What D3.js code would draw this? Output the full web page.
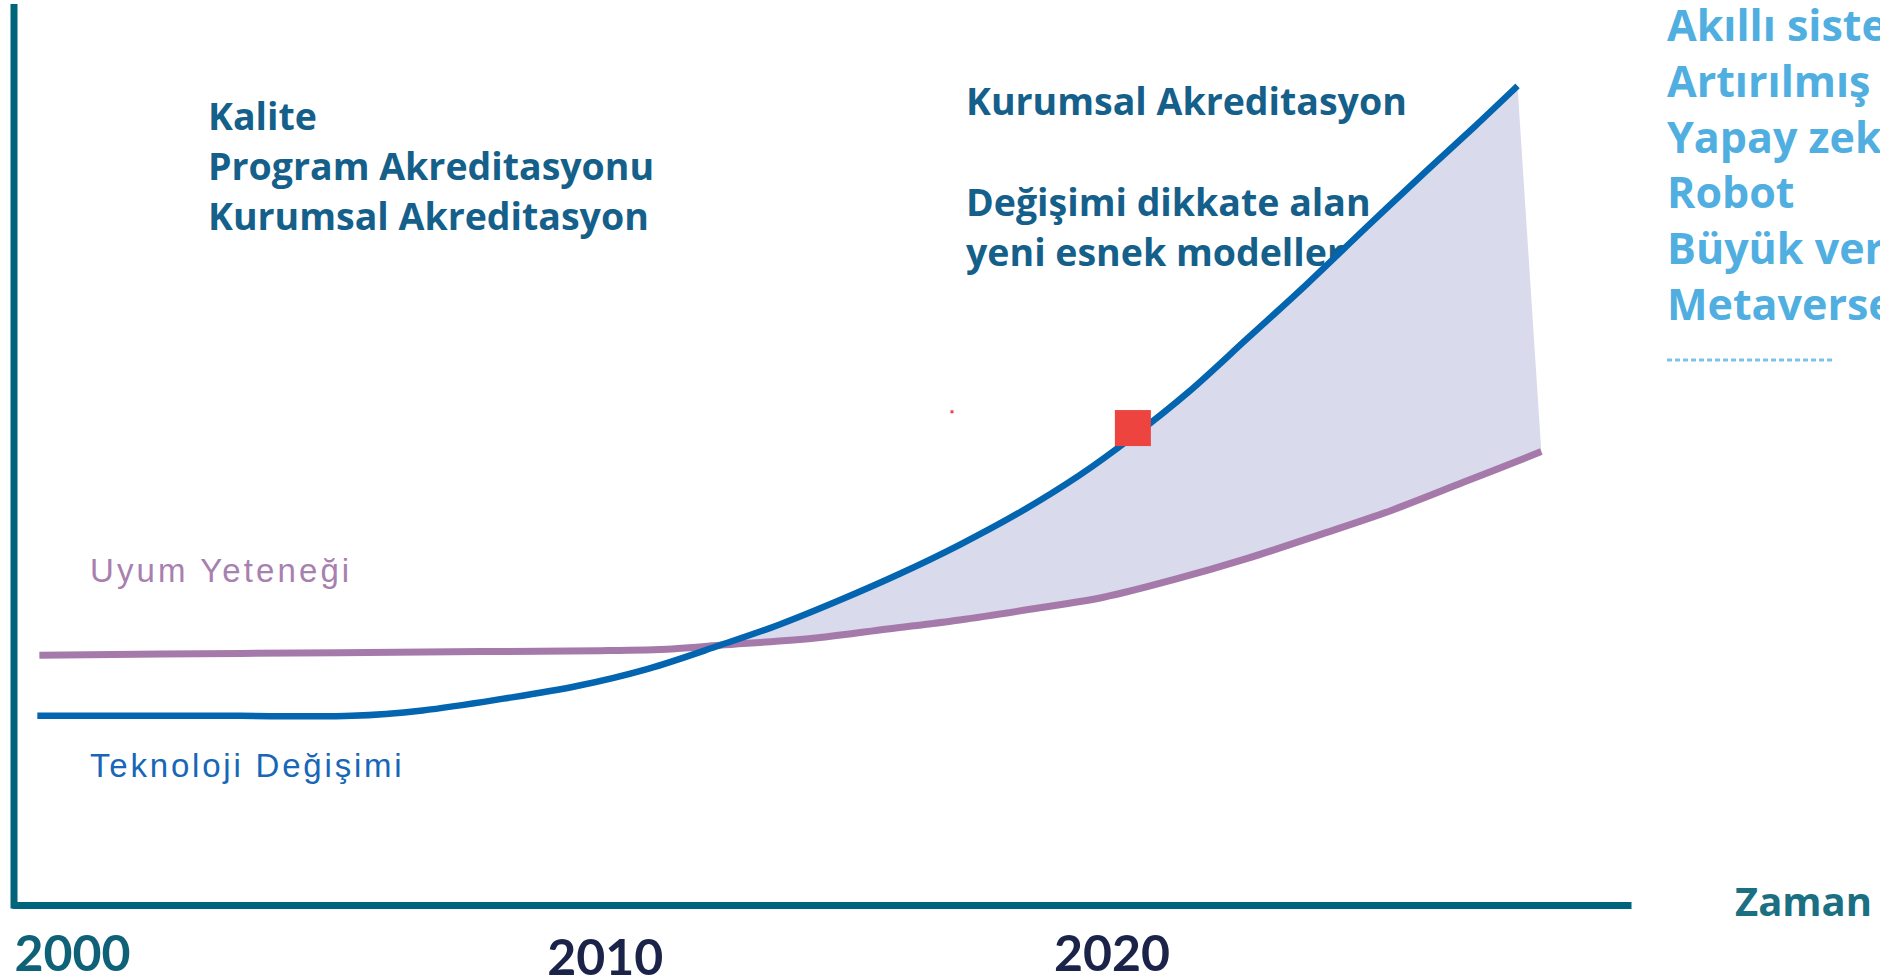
<!DOCTYPE html>
<html>
<head>
<meta charset="utf-8">
<script src="https://cdn.jsdelivr.net/npm/d3@7"></script>
<style>
  html, body { margin: 0; padding: 0; background: #ffffff; }
  svg { display: block; }
</style>
</head>
<body>
<svg id="chart" width="1880" height="977"></svg>
<script>
// ---------------- DATA ----------------
// Teknoloji Değişimi (technology change) curve: [year, level]
const techYears  = [1998.8, 2000.5, 2002.8, 2005.0, 2006.4, 2008.0, 2009.45, 2010.85, 2012.27, 2013.45, 2014.64, 2015.82, 2017.0, 2018.19, 2019.37, 2020.43, 2021.5, 2022.68, 2023.87, 2025.05, 2026.23, 2027.18, 2028.01];
const techValues = [20.9, 20.9, 20.9, 20.9, 21.5, 22.8, 24.2, 26.1, 28.7, 31.0, 33.7, 36.6, 39.8, 43.4, 47.5, 51.8, 56.6, 62.6, 68.7, 75.0, 81.2, 86.1, 90.5];
// Uyum Yeteneği (adaptation ability) curve
const uyumYears  = [1998.84, 2002.82, 2007.55, 2009.92, 2011.32, 2012.27, 2014.16, 2015.58, 2017.0, 2018.42, 2019.84, 2021.26, 2022.68, 2024.1, 2025.52, 2026.94, 2028.48];
const uyumValues = [27.6, 27.8, 28.0, 28.1, 28.3, 28.7, 29.5, 30.5, 31.5, 32.7, 34.0, 36.0, 38.3, 40.9, 43.6, 46.7, 50.1];
// year where the two curves cross (the gap area starts here)
const crossYear = 2012.27;
// red marker(s): [year, level]
const markerYears  = [2020.42, 2016.85];
const markerValues = [52.7, 54.5];
// x tick labels
const tickYears  = [2000, 2010, 2020];
const tickLabels = ["2000", "2010", "2020"];
// texts
const leftBlock  = ["Kalite", "Program Akreditasyonu", "Kurumsal Akreditasyon"];
const rightBlock = ["Kurumsal Akreditasyon", "", "Değişimi dikkate alan", "yeni esnek modeller"];
const techList   = ["Akıllı sistemler", "Artırılmış gerçeklik", "Yapay zeka", "Robot", "Büyük veri", "Metaverse"];
const seriesNames = ["Teknoloji Değişimi", "Uyum Yeteneği"];
const axisTitle = "Zaman";

// ---------------- LAYOUT ----------------
const svg = d3.select("#chart");
const FONT = "'Open Sans', Lato, sans-serif";
const x = d3.scaleLinear().domain([1998.3, 2030.25]).range([12, 1631]);
const y = d3.scaleLinear().domain([0, 100]).range([905, 0]);

const tech = techYears.map((d, i) => [d, techValues[i]]);
const uyum = uyumYears.map((d, i) => [d, uyumValues[i]]);

const line = d3.line().x(d => x(d[0])).y(d => y(d[1])).curve(d3.curveCatmullRom.alpha(0.5));

// ---- texts (drawn under the fill and lines) ----
const gText = svg.append("g");
gText.selectAll("text.lb").data(leftBlock).join("text")
  .attr("x", 208).attr("y", (d, i) => 130 + i * 50)
  .attr("font-family", FONT).attr("font-weight", 700).attr("font-size", 37.5)
  .attr("fill", "#14608a").text(d => d);

gText.selectAll("text.rb").data(rightBlock).join("text")
  .attr("x", 966).attr("y", (d, i) => [115, 165, 216, 266][i])
  .attr("font-family", FONT).attr("font-weight", 700).attr("font-size", 37.5)
  .attr("fill", "#14608a").text(d => d);

gText.selectAll("text.tl").data(techList).join("text")
  .attr("x", 1667).attr("y", (d, i) => 41 + i * 55.8)
  .attr("font-family", FONT).attr("font-weight", 700).attr("font-size", 43)
  .attr("fill", "#50afe0").text(d => d);

gText.append("line")
  .attr("x1", 1667).attr("x2", 1835).attr("y1", 360).attr("y2", 360)
  .attr("stroke", "#7cc2e8").attr("stroke-width", 3).attr("stroke-dasharray", "5,3");

gText.append("text").attr("x", 90).attr("y", 582)
  .attr("font-family", "'Liberation Sans', Arial, sans-serif").attr("font-size", 33)
  .attr("letter-spacing", 3.1).attr("fill", "#a880b0").text(seriesNames[1]);
gText.append("text").attr("x", 90).attr("y", 777)
  .attr("font-family", "'Liberation Sans', Arial, sans-serif").attr("font-size", 33)
  .attr("letter-spacing", 2.8).attr("fill", "#1766b8").text(seriesNames[0]);

// ---- gap area between the curves ----
const techPart = tech.filter(d => d[0] >= crossYear);
const uyumPart = uyum.filter(d => d[0] >= crossYear).slice().reverse();
const areaPath = line(techPart) + "L" + line(uyumPart).slice(1) + "Z";
svg.append("path").attr("d", areaPath).attr("fill", "#d9daec").attr("stroke", "none");

// ---- lines ----
svg.append("path").datum(uyum).attr("d", line)
  .attr("fill", "none").attr("stroke", "#a57aaa").attr("stroke-width", 7);
svg.append("path").datum(tech).attr("d", line)
  .attr("fill", "none").attr("stroke", "#0364b0").attr("stroke-width", 6.5);

// ---- markers ----
const mSizes = [36, 3];
svg.selectAll("rect.mk").data(markerYears).join("rect")
  .attr("x", (d, i) => x(d) - mSizes[i] / 2)
  .attr("y", (d, i) => y(markerValues[i]) - mSizes[i] / 2)
  .attr("width", (d, i) => mSizes[i]).attr("height", (d, i) => mSizes[i])
  .attr("fill", "#ee4440");

// ---- axes ----
const xAxis = d3.axisBottom(x).tickValues(tickYears).tickFormat((d, i) => tickLabels[i])
  .tickSize(0).tickSizeOuter(0).tickPadding(0);
const gx = svg.append("g").attr("transform", "translate(0,905)").call(xAxis);
gx.select(".domain").attr("stroke", "#00657c").attr("stroke-width", 7);
gx.selectAll(".tick text")
  .attr("font-family", "Lato, sans-serif").attr("font-weight", 700).attr("font-size", 50)
  .attr("fill", (d, i) => i === 0 ? "#0e6177" : "#1c2349")
  .attr("dy", (d, i) => i === 1 ? 70 : 66);
gx.selectAll(".tick").filter((d, i) => i === 0).select("text")
  .attr("text-anchor", "start").attr("x", 14 - x(2000));

const yAxis = d3.axisLeft(y).tickValues([]).tickSize(0).tickSizeOuter(0);
const gy = svg.append("g").attr("transform", "translate(14,0)").call(yAxis);
gy.select(".domain").attr("stroke", "#00657c").attr("stroke-width", 7)
  .attr("d", "M0," + (y(100) + 4) + "V" + (y(0) + 3.5));

svg.append("text").attr("x", 1735).attr("y", 916)
  .attr("font-family", FONT).attr("font-weight", 700).attr("font-size", 40)
  .attr("fill", "#1a6f82").text(axisTitle);
</script>
</body>
</html>
